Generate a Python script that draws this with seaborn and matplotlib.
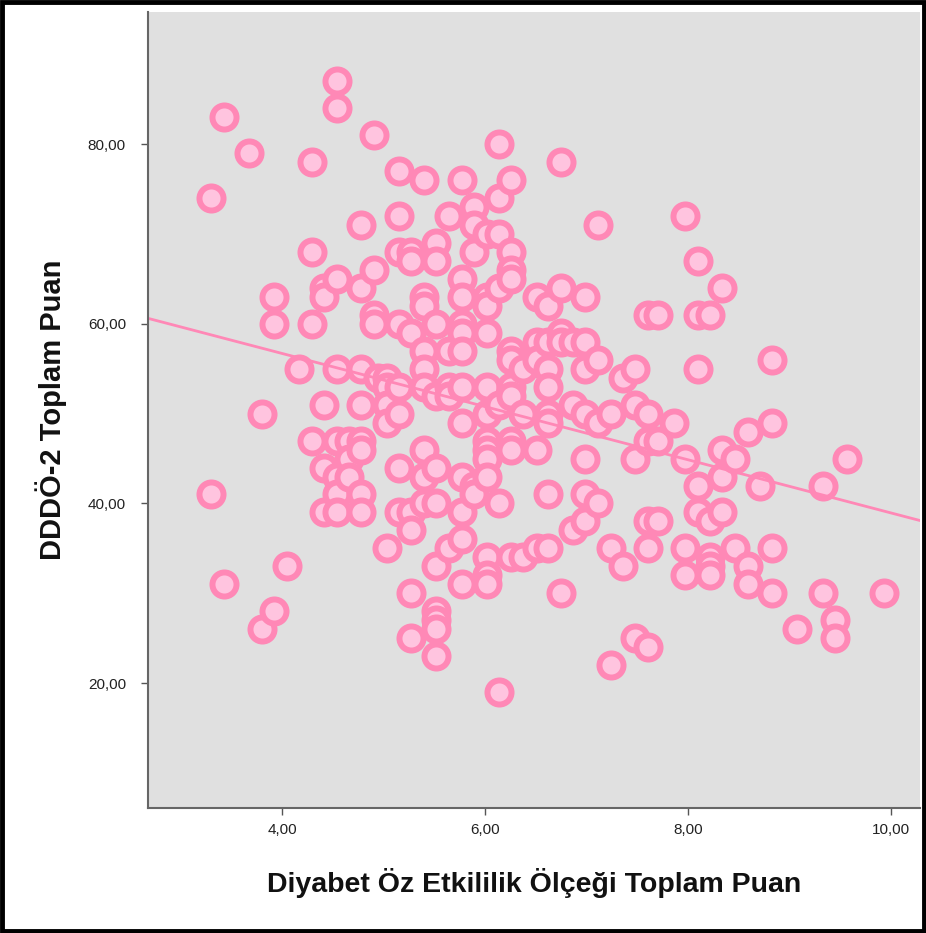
import numpy as np
import pandas as pd
import matplotlib
matplotlib.use("Agg")
import matplotlib.pyplot as plt
import matplotlib.patches as mpatches
import seaborn as sns

# Data (x = Diyabet Öz Etkililik, y = DDDÖ-2)
x_cols = [3.30, 3.43, 3.67, 3.80, 3.92, 4.05, 4.17, 4.30, 4.41, 4.54, 4.66, 4.78,
          4.91, 4.95, 5.03, 5.15, 5.27, 5.40, 5.52, 5.65, 5.77, 5.89, 6.02, 6.14,
          6.26, 6.38, 6.51, 6.62, 6.75, 6.87, 6.99, 7.12, 7.24, 7.36, 7.48, 7.61,
          7.71, 7.86, 7.97, 8.10, 8.22, 8.34, 8.47, 8.59, 8.71, 8.83, 9.08, 9.33,
          9.45, 9.57, 9.94]
y_groups = [
    [74, 41], [83, 31], [79], [50, 26], [63, 60, 28], [33], [55],
    [78, 68, 60, 47], [64, 63, 51, 44, 39], [87, 84, 65, 55, 47, 43, 41, 39],
    [47, 45, 43], [71, 64, 55, 51, 47, 46, 41, 39], [81, 66, 61, 60], [54],
    [54, 53, 51, 49, 35], [77, 72, 68, 60, 53, 50, 44, 39],
    [68, 67, 59, 39, 37, 30, 25], [76, 63, 62, 57, 55, 53, 46, 43, 40],
    [69, 67, 60, 52, 44, 40, 33, 28, 27, 26, 23], [72, 57, 53, 52, 35],
    [76, 65, 63, 60, 59, 57, 53, 49, 43, 39, 36, 31], [73, 71, 68, 42, 41],
    [70, 63, 62, 59, 53, 50, 47, 46, 45, 43, 34, 32, 31],
    [80, 74, 70, 64, 51, 40, 19], [76, 68, 66, 65, 57, 56, 53, 52, 47, 46, 34],
    [55, 50, 34], [63, 58, 56, 46, 35], [62, 58, 55, 53, 50, 49, 41, 35],
    [78, 64, 59, 58, 30], [58, 51, 37], [63, 58, 55, 50, 45, 41, 38],
    [71, 56, 49, 40], [50, 35, 22], [54, 33], [55, 51, 45, 25],
    [61, 50, 47, 38, 35, 24], [61, 47, 38], [49], [72, 45, 35, 32],
    [67, 61, 55, 42, 39], [61, 38, 34, 33, 32], [64, 46, 43, 39], [45, 35],
    [48, 33, 31], [42], [56, 49, 35, 30], [26], [42, 30], [27, 25], [45], [30]]

x_ticks = [4, 6, 8, 10]
x_tick_labels = ["4,00", "6,00", "8,00", "10,00"]
y_ticks = [20, 40, 60, 80]
y_tick_labels = ["20,00", "40,00", "60,00", "80,00"]

xs, ys = [], []
for xv, grp in zip(x_cols, y_groups):
    for yv in grp:
        xs.append(xv)
        ys.append(yv)
df = pd.DataFrame({"oz": xs, "dddo": ys})

sns.set_theme(style="white")
plt.rcParams["font.family"] = ["Liberation Sans", "DejaVu Sans"]

fig = plt.figure(figsize=(9.26, 9.33), dpi=100)
ax = fig.add_axes([0.160, 0.134, 0.8335, 0.853])
ax.set_facecolor("#E0E0E0")
ax.set_xlim(2.68, 10.29)
ax.set_ylim(6.1, 94.7)

edge = "#FF88B6"
face = "#FFC4DF"
sns.regplot(data=df, x="oz", y="dddo", ax=ax, ci=None, truncate=False,
            scatter_kws=dict(s=300, facecolor=face, edgecolor=edge,
                             linewidths=4.3, alpha=1),
            line_kws=dict(color=edge, lw=2))

ax.set_xticks(x_ticks)
ax.set_xticklabels(x_tick_labels)
ax.set_yticks(y_ticks)
ax.set_yticklabels(y_tick_labels)
ax.tick_params(axis="both", which="major", direction="out", length=5,
               width=1, color="#555555", labelsize=11, labelcolor="#222222",
               bottom=True, left=True, pad=6)
ax.tick_params(axis="y", pad=11)
for s in ["top", "right"]:
    ax.spines[s].set_visible(False)
for s in ["left", "bottom"]:
    ax.spines[s].set_color("#666666")
    ax.spines[s].set_linewidth(1.5)

ax.set_xlabel("Diyabet Öz Etkililik Ölçeği Toplam Puan", fontsize=20.5,
              fontweight="bold", color="#111111", labelpad=22)
ax.set_ylabel("DDDÖ-2 Toplam Puan", fontsize=21, fontweight="bold",
              color="#111111", labelpad=15)

fig.patches.append(mpatches.Rectangle((0.002, 0.002), 0.996, 0.996,
                                      transform=fig.transFigure, fill=False,
                                      edgecolor="black", linewidth=3.5))

fig.savefig("out.png", dpi=100)
